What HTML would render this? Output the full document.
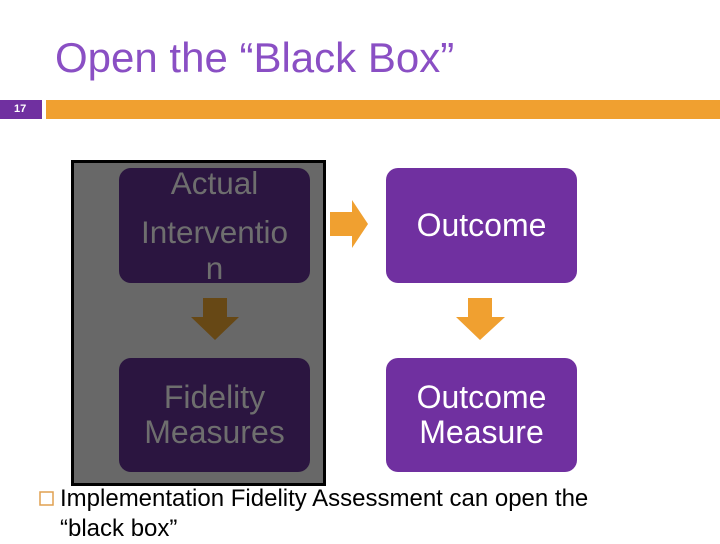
<!DOCTYPE html>
<html><head><style>
body{margin:0;width:720px;height:540px;background:#fff;position:relative;overflow:hidden;font-family:"Liberation Sans",sans-serif}
div{position:absolute;box-sizing:border-box}
.b{border-radius:12px;display:flex;align-items:center;justify-content:center;text-align:center;font-size:32px;line-height:35px}
</style></head><body>
<div style="left:55px;top:34px;font-size:42px;color:#8a4fc4;white-space:nowrap">Open the “Black Box”</div>
<div style="left:0;top:100px;width:42px;height:19px;background:#7030a0;color:#fff;font-size:11px;font-weight:bold;line-height:19px;padding-left:14px">17</div>
<div style="left:46px;top:100px;width:674px;height:19px;background:#f0a030"></div>
<div style="left:71px;top:160px;width:255px;height:326px;background:#686868;border:3px solid #000"></div>
<div class="b" style="left:119px;top:168px;width:191px;height:115px;background:#2b1540;color:#6e6e6e;overflow:visible"></div>
<div style="left:119px;top:163px;width:191px;text-align:center;font-size:31.5px;color:#6e6e6e;line-height:40px">Actual</div>
<div style="left:100px;top:212px;width:229px;text-align:center;font-size:31.5px;color:#6e6e6e;line-height:40px">Interventio</div>
<div style="left:119px;top:248px;width:191px;text-align:center;font-size:31.5px;color:#6e6e6e;line-height:40px">n</div>
<div class="b" style="left:119px;top:358px;width:191px;height:114px;background:#2b1540;color:#6e6e6e">Fidelity<br>Measures</div>
<div class="b" style="left:386px;top:168px;width:191px;height:115px;background:#7030a0;color:#fff">Outcome</div>
<div class="b" style="left:386px;top:358px;width:191px;height:114px;background:#7030a0;color:#fff">Outcome<br>Measure</div>
<svg style="position:absolute;left:0;top:0" width="720" height="540">
<polygon points="330,212 352,212 352,200 368,224 352,248 352,236 330,236" fill="#f0a030"/>
<polygon points="203,298 227,298 227,317 239,317 215,340 191,317 203,317" fill="#674815"/>
<polygon points="468,298 492,298 492,317 505,317 480,340 456,317 468,317" fill="#f0a030"/>
<rect x="40" y="492" width="13" height="13" fill="none" stroke="#e0a050" stroke-width="1.5"/>
</svg>
<div style="left:60px;top:484px;font-size:24px;line-height:30px;color:#000;white-space:nowrap">Implementation Fidelity Assessment can open the<br>“black box”</div>
</body></html>
